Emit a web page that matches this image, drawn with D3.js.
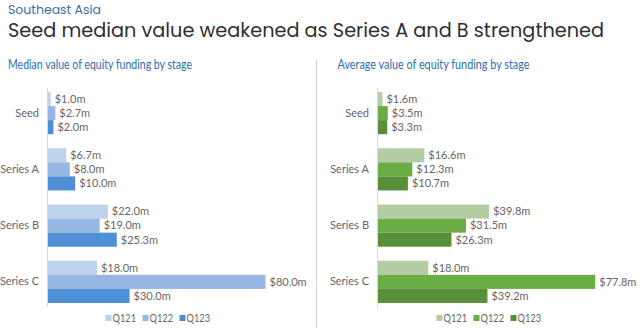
<!DOCTYPE html>
<html><head><meta charset="utf-8">
<script src="https://cdn.jsdelivr.net/npm/d3@7"></script>
<style>body{margin:0;background:#fff}svg{display:block}</style>
</head><body>
<svg id="c" width="640" height="330"></svg>
<script>
const stages = ["Seed","Series A","Series B","Series C"];
const quarters = ["Q121","Q122","Q123"];
const medianValues = {
  Q121: [1.0, 6.7, 22.0, 18.0],
  Q122: [2.7, 8.0, 19.0, 80.0],
  Q123: [2.0, 10.0, 25.3, 30.0]
};
const averageValues = {
  Q121: [1.6, 16.6, 39.8, 18.0],
  Q122: [3.5, 12.3, 31.5, 77.8],
  Q123: [3.3, 10.7, 26.3, 39.2]
};
const blueColors = ["#bdd2ec","#95b7e2","#4e8fd6"];
const greenColors = ["#b2cda3","#6aad45","#5a8f3a"];

const svg = d3.select("#c");
const lato = "Lato, 'Noto Sans', sans-serif";
const headFont = "Poppins, 'Open Sans', 'Noto Sans', sans-serif";

svg.append("text").attr("x",8).attr("y",14)
  .attr("font-family",headFont).attr("font-size",12.5)
  .attr("fill","#3b6ea5").attr("textLength",93).attr("lengthAdjust","spacingAndGlyphs")
  .text("Southeast Asia");

svg.append("text").attr("x",8).attr("y",36.5)
  .attr("font-family",headFont).attr("font-size",19)
  .attr("fill","#2f2f2f").attr("textLength",596).attr("lengthAdjust","spacingAndGlyphs")
  .text("Seed median value weakened as Series A and B strengthened");

svg.append("line").attr("x1",316.5).attr("x2",316.5).attr("y1",60).attr("y2",328)
  .attr("stroke","#d0d0d0").attr("stroke-width",1);

function panel(opts){
  const g = svg.append("g");
  g.append("text").attr("x",opts.titleX).attr("y",69)
    .attr("font-family",lato).attr("font-size",12.5)
    .attr("fill","#2e6fb0").attr("textLength",opts.titleW).attr("lengthAdjust","spacingAndGlyphs")
    .text(opts.title);

  const y = d3.scaleBand().domain(stages).range([85,310]).paddingInner(0.25).paddingOuter(0.125);
  const ySub = d3.scaleBand().domain(quarters).range([0, y.bandwidth()]);
  const x = d3.scaleLinear().domain([0,80]).range([opts.x0, opts.x0 + opts.w80]);

  const rows = [];
  quarters.forEach((q,qi)=>{
    stages.forEach((s,si)=>rows.push({q,qi,s,v:opts.data[q][si]}));
  });

  g.selectAll("rect.bar").data(rows).join("rect")
    .attr("x", x(0))
    .attr("y", d=>y(d.s)+ySub(d.q))
    .attr("width", d=>x(d.v)-x(0))
    .attr("height", ySub.bandwidth())
    .attr("fill", d=>opts.colors[d.qi]);

  g.selectAll("text.val").data(rows).join("text")
    .attr("x", d=>x(d.v)+4)
    .attr("y", d=>y(d.s)+ySub(d.q)+ySub.bandwidth()/2)
    .attr("dy","0.35em")
    .attr("font-family",lato).attr("font-size",11)
    .attr("fill","#666").text(d=>"$"+d.v.toFixed(1)+"m");

  g.append("line").attr("x1",x(0)-0.5).attr("x2",x(0)-0.5).attr("y1",88).attr("y2",307)
    .attr("stroke","#d9d9d9");

  const axis = d3.axisLeft(y).tickSize(0).tickPadding(8);
  const ag = g.append("g").attr("transform",`translate(${x(0)-1},0)`).call(axis);
  ag.select(".domain").remove();
  ag.selectAll("text").attr("font-family",lato).attr("font-size",11).attr("fill","#666");

  const lg = g.append("g").selectAll("g").data(quarters).join("g")
    .attr("transform",(d,i)=>`translate(${opts.legX + i*37},318)`);
  lg.append("rect").attr("x",0).attr("y",-3).attr("width",6).attr("height",6)
    .attr("fill",(d,i)=>opts.colors[i]);
  lg.append("text").attr("x",7).attr("dy","0.35em")
    .attr("font-family",lato).attr("font-size",11).attr("fill","#666")
    .attr("textLength",23.5).attr("lengthAdjust","spacingAndGlyphs").text(d=>d);
}

panel({title:"Median value of equity funding by stage", titleX:8, titleW:184,
  data:medianValues, colors:blueColors, x0:48, w80:217.5, legX:105.5});
panel({title:"Average value of equity funding by stage", titleX:337.5, titleW:192,
  data:averageValues, colors:greenColors, x0:378, w80:223.4, legX:436.5});
</script>
</body></html>
